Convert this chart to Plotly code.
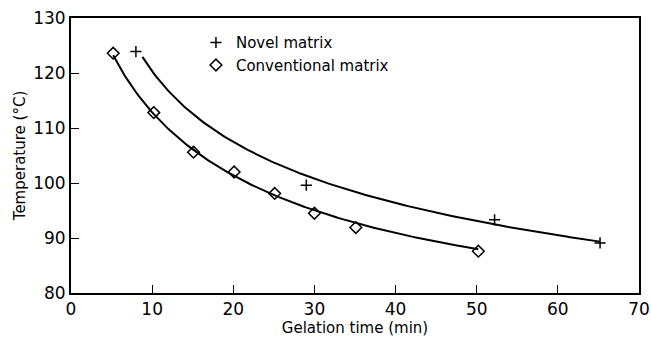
import numpy as np
import plotly.graph_objects as go

# Measured points
novel_t = [8.0, 29.0, 52.2, 65.2]
novel_T = [123.9, 99.6, 93.3, 89.1]
conv_t = [5.2, 10.2, 15.1, 20.1, 25.1, 30.0, 35.1, 50.2]
conv_T = [123.6, 112.8, 105.6, 102.0, 98.1, 94.5, 91.9, 87.6]

# Hand-drawn smooth curves
novel_curve_t = [8.8, 18.2, 21.8, 29.1, 36.8, 42.6, 46.2, 52.2, 58.8, 65.2]
novel_curve_T = [122.9, 109.3, 105.9, 101.1, 97.5, 95.4, 94.4, 92.6, 90.8, 89.2]
conv_curve_t = [5.2, 10.2, 15.1, 20.1, 25.1, 30.0, 35.1, 42.6, 46.2, 50.2]
conv_curve_T = [123.2, 112.8, 105.4, 101.7, 97.9, 94.9, 92.5, 90.2, 89.3, 87.7]

x_ticks = [0, 10, 20, 30, 40, 50, 60, 70]
y_ticks = [80, 90, 100, 110, 120, 130]


def smooth(ts, Ts, deg=3):
    lt = np.log(ts)
    c = np.polyfit(lt, Ts, deg)
    tt = np.linspace(min(ts), max(ts), 200)
    return tt, np.polyval(c, np.log(tt))


FONT = "DejaVu Sans"
fig = go.Figure()
for ct, cT in [(novel_curve_t, novel_curve_T), (conv_curve_t, conv_curve_T)]:
    tt, TT = smooth(ct, cT)
    fig.add_trace(go.Scatter(x=tt, y=TT, mode="lines",
                             line=dict(color="black", width=2),
                             showlegend=False, hoverinfo="skip"))
fig.add_trace(go.Scatter(x=novel_t, y=novel_T, mode="markers", name="Novel matrix",
                         marker=dict(symbol="cross-thin-open", size=8, color="black",
                                     line=dict(color="black", width=1.5))))
fig.add_trace(go.Scatter(x=conv_t, y=conv_T, mode="markers", name="Conventional matrix",
                         marker=dict(symbol="diamond-open", size=9, color="black",
                                     line=dict(color="black", width=1.5))))

fig.update_layout(
    width=651, height=338,
    margin=dict(l=71, r=12, t=18, b=45),
    paper_bgcolor="white", plot_bgcolor="white",
    font=dict(family=FONT, color="black", size=17),
    legend=dict(x=0.22, y=0.97, xanchor="left", yanchor="top",
                bgcolor="rgba(0,0,0,0)", font=dict(size=15), itemwidth=30,
                tracegroupgap=0),
    xaxis=dict(range=[0, 70], tickvals=x_ticks, showline=True, linecolor="black",
               linewidth=2, mirror=True, ticks="inside", ticklen=8, tickcolor="black",
               showgrid=False, zeroline=False, automargin=False,
               ticklabeloverflow="allow",
               title=dict(text="Gelation time (min)", font=dict(size=15), standoff=2)),
    yaxis=dict(range=[80, 130], tickvals=y_ticks, showline=True, linecolor="black",
               linewidth=2, mirror=True, ticks="inside", ticklen=8, tickcolor="black",
               showgrid=False, zeroline=False, automargin=False,
               title=dict(text="Temperature (°C)", font=dict(size=15), standoff=4)),
)
fig.write_html("out.html")
